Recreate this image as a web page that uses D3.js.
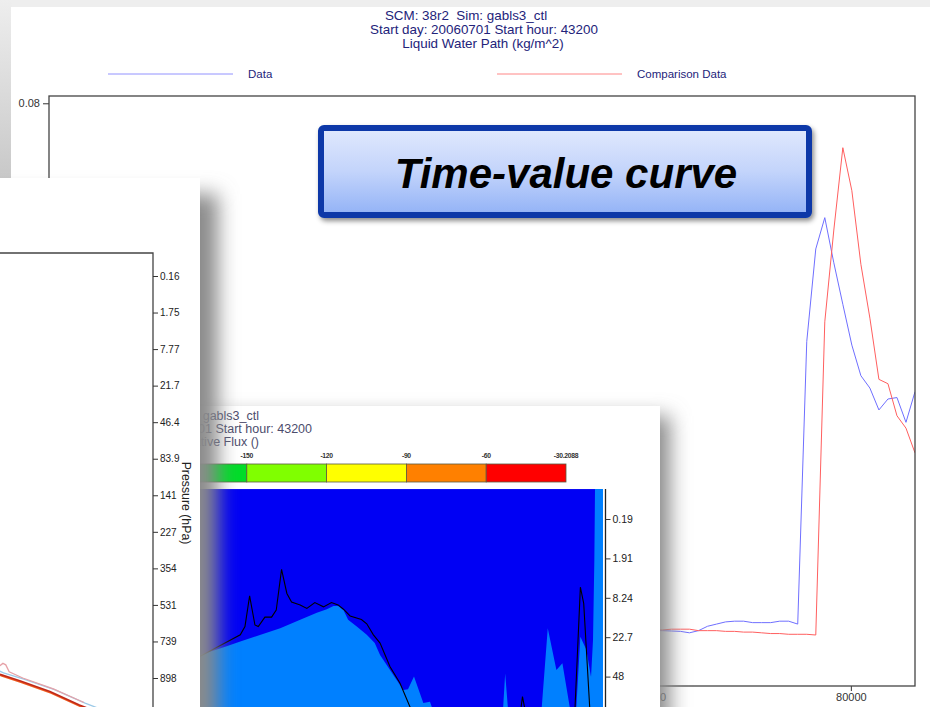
<!DOCTYPE html>
<html>
<head>
<meta charset="utf-8">
<script src="https://cdn.jsdelivr.net/npm/d3@7"></script>
<style>
  html, body { margin: 0; padding: 0; background: #ececec; overflow: hidden; }
  svg { display: block; font-family: "Liberation Sans", Arial, sans-serif; }
</style>
</head>
<body>
<svg id="chart" width="930" height="707"></svg>
<script>
// ---------- Liquid water path time series (15-minute output, seconds from start) ----------
const lwpTime = [59400, 60300, 61200, 62100, 63000, 63900, 64800, 65700, 66600, 67500,
                 68400, 69300, 70200, 71100, 72000, 72900, 73800, 74700, 75600, 76500,
                 77400, 78300, 79200, 80100, 81000, 81900, 82800, 83700, 84600, 85500, 86400];
const lwpData = [0.0076, 0.0076, 0.0076, 0.00755, 0.0075, 0.0073, 0.0076, 0.0082, 0.0085, 0.0088,
                 0.0089, 0.0089, 0.0087, 0.0087, 0.0087, 0.0089, 0.0089, 0.0085, 0.0473, 0.0600,
                 0.0643, 0.0581, 0.0524, 0.0468, 0.0426, 0.0409, 0.0379, 0.0394, 0.0396, 0.0362, 0.0404];
const lwpComparison = [0.0077, 0.0077, 0.0077, 0.0078, 0.0078, 0.0078, 0.0076, 0.0076, 0.0076, 0.0075,
                       0.0075, 0.0074, 0.0074, 0.0073, 0.0072, 0.0072, 0.0071, 0.0071, 0.0071, 0.0070,
                       0.0500, 0.0626, 0.0739, 0.0680, 0.0579, 0.0505, 0.0421, 0.0415, 0.0371, 0.0354, 0.0320];
const lwpXTicks = [0, 20000, 40000, 60000, 80000];
const lwpYTicks = [0, 0.02, 0.04, 0.06, 0.08];
const lwpTitle = ["SCM: 38r2  Sim: gabls3_ctl", "Start day: 20060701 Start hour: 43200", "Liquid Water Path (kg/m^2)"];
const lwpSeriesNames = ["Data", "Comparison Data"];
const lwpSeriesColors = ["#6f6fff", "#ff5f5f"];

// ---------- Vertical profile panel (model levels) ----------
const profileLevelLabels = ["0.16", "1.75", "7.77", "21.7", "46.4", "83.9", "141", "227", "354", "531", "739", "898"];
const profileColors = ["#9ccae8", "#e6a2a8", "#f05c1e", "#c02818"];
const profileA = [[280.3, 10.15], [283.3, 10.5], [286.4, 10.8], [286.8, 10.86], [288.6, 11.03], [291.3, 11.32], [294.0, 11.69], [295.8, 11.9]];
const profileB = [[280.2, 10.1], [283.0, 10.45], [286.0, 10.6], [286.5, 10.66], [286.75, 10.6], [287.0, 10.64], [287.3, 10.83], [288.5, 11.0], [291.2, 11.3], [293.9, 11.67]];
const profileC = [[280.1, 10.25], [283.1, 10.6], [286.2, 10.88], [286.6, 10.94], [288.4, 11.12], [291.0, 11.41], [293.6, 11.78], [295.4, 11.99]];
const profileD = [[280.0, 10.2], [283.0, 10.55], [286.1, 10.84], [286.5, 10.9], [288.3, 11.08], [290.9, 11.37], [293.5, 11.74], [295.3, 11.95]];

// ---------- Net radiative flux time-height panel ----------
const fluxTitle = ["SCM: 38r2  Sim: gabls3_ctl", "Start day: 20060701 Start hour: 43200", "Net Radiative Flux ()"];
const fluxBandColors = ["#00dc28", "#80ff00", "#ffff00", "#ff8000", "#ff0000"];
const fluxBandLabels = ["-150", "-120", "-90", "-60", "-30.2088"];
const fluxLevelLabels = ["0.19", "1.91", "8.24", "22.7", "48"];
const fluxFillColors = ["#0000f4", "#0080ff"];
// upper edge of the lighter band: [time (s), level]
const fluxLightEdge = [[24000, 3.55], [25800, 3.45], [29300, 3.26], [31900, 3.11], [34400, 2.97], [37900, 2.77],
  [40900, 2.56], [43400, 2.38], [44900, 2.29], [45900, 2.21], [46600, 2.21], [47400, 2.31], [48100, 2.56],
  [49400, 2.73], [50900, 2.94], [52100, 3.15], [52900, 3.45], [54400, 3.83], [56400, 4.34], [57100, 4.32],
  [58000, 4.0], [59400, 4.67], [60400, 4.64], [61900, 5.36], [70900, 5.36], [71400, 4.77], [71700, 3.92],
  [72100, 4.77], [72600, 5.36], [76600, 5.36], [77200, 4.77], [78100, 2.77], [79400, 3.83], [80300, 3.66],
  [81400, 4.77], [81900, 5.36], [82400, 4.76], [83000, 2.99], [83900, 3.32], [84600, 4.01], [84900, 3.07],
  [85100, 1.04], [85200, -0.76], [86400, -0.76]];
// zero-flux contour line: [time (s), level]
const fluxContour = [[24000, 3.6], [25800, 3.49], [31900, 2.94], [32600, 2.73], [33300, 1.95], [34100, 2.69],
  [34600, 2.73], [35600, 2.49], [36600, 2.49], [37300, 2.31], [38100, 1.28], [38900, 1.89], [39600, 2.11],
  [40900, 2.18], [41900, 2.27], [43100, 2.12], [44400, 2.23], [45600, 2.12], [46600, 2.18], [47400, 2.29],
  [48400, 2.46], [50100, 2.55], [50900, 2.66], [51900, 2.94], [52900, 3.15], [54400, 3.75], [55900, 4.17],
  [57400, 4.77], [58600, 5.61], [73200, 5.61], [74100, 4.77], [74300, 4.51], [74600, 4.77], [75000, 5.61],
  [81700, 5.61], [82200, 4.77], [83000, 1.73], [83500, 2.14], [84400, 4.77], [84700, 5.61]];

// ---------- layout ----------
const W = 930, H = 707;
const svg = d3.select("#chart");
const defs = svg.append("defs");
const shadowGray = "#8a8a8a";

function blurFilter(id, sd) {
  defs.append("filter").attr("id", id)
    .attr("x", "-40%").attr("y", "-40%").attr("width", "180%").attr("height", "180%")
    .append("feGaussianBlur").attr("stdDeviation", sd);
}
blurFilter("blur10", 10);

function clip(id, x, y, w, h) {
  defs.append("clipPath").attr("id", id).append("rect")
    .attr("x", x).attr("y", y).attr("width", w).attr("height", h);
}

function styleAxis(g, size, color) {
  g.attr("font-family", null).attr("font-size", null);
  g.selectAll("text").attr("font-size", size).attr("fill", color);
  g.selectAll("line").attr("stroke", "#333");
  g.select(".domain").remove();
}

// backdrop
const sideGrad = defs.append("linearGradient").attr("id", "sideGrad")
  .attr("x1", 0).attr("y1", 0).attr("x2", 0).attr("y2", 1);
sideGrad.append("stop").attr("offset", 0).attr("stop-color", "#eeeeee");
sideGrad.append("stop").attr("offset", 1).attr("stop-color", "#c8c8c8");
svg.append("rect").attr("width", W).attr("height", H).attr("fill", "#eeeeee");
svg.append("rect").attr("x", 0).attr("y", 0).attr("width", 12).attr("height", 180).attr("fill", "url(#sideGrad)");

// ================= Liquid water path chart =================
const mx = d3.scaleLinear().domain([0, 86400]).range([49, 915]);
const my = d3.scaleLinear().domain([0, 0.081]).range([686, 96]);
const main = svg.append("g");
main.append("rect").attr("x", 11).attr("y", 7).attr("width", 940).attr("height", 720).attr("fill", "#fff");

const titleX = [466, 484, 483];
main.selectAll("text.title").data(lwpTitle).join("text")
  .attr("class", "title")
  .attr("x", (d, i) => titleX[i]).attr("y", (d, i) => 19.5 + i * 14.2)
  .attr("text-anchor", "middle").attr("font-size", 13.4).attr("fill", "#23237a")
  .style("white-space", "pre").text(d => d);

// legend
const legendLineX = [108, 497];
lwpSeriesNames.forEach((name, i) => {
  main.append("line").attr("x1", legendLineX[i]).attr("x2", legendLineX[i] + 125)
    .attr("y1", 74).attr("y2", 74).attr("stroke", lwpSeriesColors[i]).attr("stroke-opacity", 0.75);
  main.append("text").attr("x", legendLineX[i] + 140).attr("y", 78)
    .attr("font-size", 11.5).attr("fill", "#23237a").text(name);
});

clip("mainClip", 49, 96, 866, 590);
main.append("g").attr("clip-path", "url(#mainClip)")
  .selectAll("path").data([lwpData, lwpComparison]).join("path")
  .attr("fill", "none").attr("stroke", (d, i) => lwpSeriesColors[i]).attr("stroke-width", 1)
  .attr("d", d3.line().x((d, i) => mx(lwpTime[i])).y(d => my(d)));

main.append("g").attr("transform", `translate(0,${my.range()[0]})`)
  .call(d3.axisBottom(mx).tickValues(lwpXTicks).tickSize(5).tickPadding(2).tickFormat(d3.format("d")))
  .call(g => styleAxis(g, 11, "#333"));
main.append("g").attr("transform", `translate(${mx.range()[0]},0)`)
  .call(d3.axisLeft(my).tickValues(lwpYTicks).tickSize(6).tickPadding(3).tickFormat(d3.format(".2f")))
  .call(g => styleAxis(g, 11, "#333"));
main.append("rect").attr("x", mx.range()[0]).attr("y", my.range()[1])
  .attr("width", mx.range()[1] - mx.range()[0]).attr("height", my.range()[0] - my.range()[1])
  .attr("fill", "none").attr("stroke", "#444").attr("stroke-width", 1.3);

// caption box
const boxFill = defs.append("linearGradient").attr("id", "boxFill")
  .attr("x1", 0).attr("y1", 0).attr("x2", 0).attr("y2", 1);
boxFill.append("stop").attr("offset", 0).attr("stop-color", "#e1e9fd");
boxFill.append("stop").attr("offset", 0.5).attr("stop-color", "#c3d4fb");
boxFill.append("stop").attr("offset", 1).attr("stop-color", "#92b2f6");
const boxShadow = defs.append("filter").attr("id", "boxShadow")
  .attr("x", "-10%").attr("y", "-20%").attr("width", "120%").attr("height", "150%");
boxShadow.append("feDropShadow").attr("dx", 2).attr("dy", 3).attr("stdDeviation", 2.5)
  .attr("flood-color", "#000").attr("flood-opacity", 0.45);
svg.append("rect").attr("x", 321).attr("y", 128).attr("width", 488).attr("height", 87).attr("rx", 3)
  .attr("fill", "url(#boxFill)").attr("stroke", "#0a38a8").attr("stroke-width", 6)
  .attr("filter", "url(#boxShadow)");
svg.append("text").attr("x", 566).attr("y", 188).attr("text-anchor", "middle")
  .attr("font-size", 42).attr("font-weight", "bold").attr("font-style", "italic").attr("fill", "#000")
  .text("Time-value curve");

// ================= Net radiative flux panel =================
const bx = d3.scaleLinear().domain([0, 86400]).range([28, 603]);
const by = d3.scaleLinear().domain([0, 4]).range([519, 676.6]);
const levelTop = -0.76, levelBottom = 6.5;

// soft shadow behind the panel
svg.append("rect").attr("x", 110).attr("y", 416).attr("width", 560).attr("height", 340)
  .attr("fill", shadowGray).attr("filter", "url(#blur10)");

const flux = svg.append("g");
flux.append("rect").attr("x", 100).attr("y", 406).attr("width", 560).attr("height", 320).attr("fill", "#fff");

const fluxTitleRight = [259, 312, 259];
flux.selectAll("text.ftitle").data(fluxTitle).join("text")
  .attr("class", "ftitle").attr("x", (d, i) => fluxTitleRight[i]).attr("y", (d, i) => 419.5 + i * 13.4)
  .attr("text-anchor", "end").attr("font-size", 12.5).attr("fill", "#4c4c6c")
  .style("white-space", "pre").text(d => d);

// colour key
const cbx = d3.scaleLinear().domain([0, fluxBandColors.length]).range([167, 566]);
flux.selectAll("rect.band").data(fluxBandColors).join("rect")
  .attr("class", "band").attr("x", (d, i) => cbx(i)).attr("y", 464)
  .attr("width", (d, i) => cbx(i + 1) - cbx(i)).attr("height", 18)
  .attr("fill", d => d).attr("stroke", "#5a5a40").attr("stroke-width", 0.8);
flux.selectAll("text.band").data(fluxBandLabels).join("text")
  .attr("class", "band").attr("x", (d, i) => cbx(i + 1)).attr("y", 457.5)
  .attr("text-anchor", "middle").attr("font-size", 6.8).attr("font-weight", "bold")
  .attr("letter-spacing", -0.3).attr("fill", "#333").text(d => d);

// time-height field
clip("fluxPlotClip", bx.range()[0], by(levelTop), bx.range()[1] - bx.range()[0], 260);
const plot = flux.append("g").attr("clip-path", "url(#fluxPlotClip)");
plot.append("rect").attr("x", bx.range()[0]).attr("y", by(levelTop))
  .attr("width", bx.range()[1] - bx.range()[0]).attr("height", by(levelBottom) - by(levelTop))
  .attr("fill", fluxFillColors[0]);
plot.append("path").datum(fluxLightEdge)
  .attr("fill", fluxFillColors[1])
  .attr("d", d3.area().x(d => bx(d[0])).y0(by(levelBottom)).y1(d => by(d[1])));
plot.append("path").datum(fluxContour)
  .attr("fill", "none").attr("stroke", "#000").attr("stroke-width", 1.1)
  .attr("d", d3.line().x(d => bx(d[0])).y(d => by(d[1])));

const axisX = bx.range()[1] + 2.5;
flux.append("line").attr("x1", axisX).attr("x2", axisX).attr("y1", by(levelTop)).attr("y2", by(levelBottom))
  .attr("stroke", "#222").attr("stroke-width", 1.3);
flux.append("g").attr("transform", `translate(${axisX},0)`)
  .call(d3.axisRight(by).tickValues(d3.range(fluxLevelLabels.length)).tickSize(5).tickPadding(2)
    .tickFormat(i => fluxLevelLabels[i]))
  .call(g => styleAxis(g, 10.5, "#222"));

// ================= Vertical profile panel (front) =================
const lx = d3.scaleLinear().domain([260, 300]).range([-300, 153]);
const ly = d3.scaleLinear().domain([0, 11]).range([276, 678]);
const left = svg.append("g");
left.append("rect").attr("x", -40).attr("y", 194).attr("width", 258).attr("height", 560)
  .attr("fill", shadowGray).attr("filter", "url(#blur10)");
left.append("rect").attr("x", -10).attr("y", 178).attr("width", 210).attr("height", 540).attr("fill", "#fff");
clip("profileClip", -10, 253, 163, 470);
left.append("g").attr("clip-path", "url(#profileClip)")
  .selectAll("path").data([profileA, profileB, profileC, profileD]).join("path")
  .attr("fill", "none").attr("stroke", (d, i) => profileColors[i]).attr("stroke-width", (d, i) => i < 2 ? 1.3 : 1.6)
  .attr("d", d3.line().x(d => lx(d[0])).y(d => ly(d[1])));
left.append("path")
  .attr("d", `M-10,253H${lx.range()[1]}V720`)
  .attr("fill", "none").attr("stroke", "#444").attr("stroke-width", 1.3);
left.append("g").attr("transform", `translate(${lx.range()[1]},0)`)
  .call(d3.axisRight(ly).tickValues(d3.range(profileLevelLabels.length)).tickSize(5).tickPadding(2)
    .tickFormat(i => profileLevelLabels[i]))
  .call(g => styleAxis(g, 10, "#222"));
left.append("text").attr("transform", "translate(182,503) rotate(90)")
  .attr("text-anchor", "middle").attr("font-size", 12.3).attr("fill", "#222").text("Pressure (hPa)");
</script>
</body>
</html>
